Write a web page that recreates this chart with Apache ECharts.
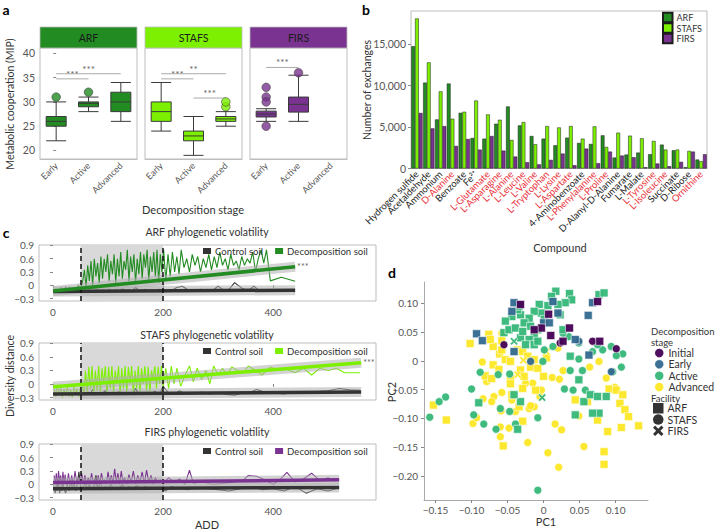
<!DOCTYPE html>
<html><head><meta charset="utf-8">
<script src="https://cdn.jsdelivr.net/npm/echarts@6/dist/echarts.min.js"></script>
<style>html,body{margin:0;padding:0;background:#fff}#c{width:717px;height:530px}</style>
</head><body><div id="c"></div>
<script>
// ---------- Panel a data ----------
const stages = ['Early', 'Active', 'Advanced'];
const arfBox = [[22, 25, 26, 27, 30], [28, 29, 29.7, 30, 31], [26, 28, 30, 32, 34]];
const stafsBox = [[24, 26, 28, 30, 34], [19, 22, 23, 24, 27], [25, 26, 26.5, 27, 28]];
const firsBox = [[26, 26.9, 27.5, 28.1, 28.6], [26, 27.9, 29.5, 31, 35.5]];
const arfOut = [['Early', 31], ['Active', 32]];
const stafsOut = [['Advanced', 29], ['Advanced', 30]];
const firsOut = [['Early', 33], ['Early', 31], ['Early', 30], ['Early', 25], ['Active', 36]];
// brackets: [fromIndex, toIndex, y, stars]
const arfSig = [[0, 1, 34.75, '***'], [0, 2, 35.8, '***']];
const stafsSig = [[0, 2, 35.8, '**'], [0, 1, 34.75, '***'], [1, 2, 30.8, '***']];
const firsSig = [[0, 1, 37.1, '***']];

// ---------- Panel b data ----------
const compounds = ['Hydrogen sulfide', 'Acetaldehyde', 'Ammonium', 'D-Alanine', 'Benzoate', 'Fe²⁺',
  'L-Glutamate', 'L-Asparagine', 'L-Alanine', 'L-Leucine', 'L-Valine', 'L-Tryptophan', 'L-Lysine',
  'L-Aspartate', '4-Aminobenzoate', 'L-Phenylalanine', 'L-Proline', 'D-Alanyl-D-Alanine', 'Fumarate',
  'L-Malate', 'L-Tyrosine', 'L-Isoleucine', 'Succinate', 'D-Ribose', 'Ornithine'];
const redCompounds = ['D-Alanine', 'L-Glutamate', 'L-Asparagine', 'L-Alanine', 'L-Leucine', 'L-Valine',
  'L-Tryptophan', 'L-Lysine', 'L-Aspartate', 'L-Phenylalanine', 'L-Proline', 'L-Tyrosine', 'L-Isoleucine', 'Ornithine'];
const arfEx = [14750, 10360, 5920, 10250, 6720, 3680, 3600, 5400, 7480, 5200, 3920, 3600, 2800,
  3720, 3080, 2960, 4000, 1320, 1680, 1920, 1720, 2880, 2200, 160, 1080];
const stafsEx = [18100, 12800, 9300, 6000, 6840, 8200, 6520, 5880, 3440, 5600, 2920, 5120, 4950,
  5120, 3600, 5080, 2600, 4320, 3960, 3640, 3320, 2280, 2280, 2120, 880];
const firsEx = [6700, 4840, 5120, 2720, 3560, 2280, 3920, 2160, 1440, 760, 500, 1040, 1800,
  400, 2400, 640, 2040, 1560, 1360, 160, 600, 280, 800, 2040, 1720];

// ---------- Panel c data ----------
const arfDecomp = [[2,-0.1],[6,-0.08],[10,-0.12],[14,-0.05],[18,-0.1],[22,-0.07],[26,-0.12],[30,-0.04],[34,-0.1],[38,-0.06],[42,-0.1],[46,0.0],[50,-0.08],
 [54,0.1],[57,0.35],[60,-0.05],[63,0.45],[66,0.1],[69,0.55],[72,0.0],[75,0.6],[78,0.2],[81,0.5],[84,0.05],[87,0.65],[90,0.15],[93,0.6],[96,0.3],[99,0.7],[102,0.1],[105,0.55],[108,0.25],[111,0.7],[114,0.05],[117,0.6],[120,0.2],[123,0.75],[126,0.15],[129,0.55],[132,0.35],[135,0.8],[138,0.1],[141,0.65],[144,0.3],[147,0.7],[150,0.05],[153,0.6],[156,0.25],[159,0.75],[162,0.15],[165,0.7],[168,0.4],[171,0.8],[174,0.1],[177,0.65],[180,0.3],[183,0.75],[186,0.2],[189,0.8],[192,0.05],[195,0.7],[198,0.3],[201,0.8],
 [205,0.1],[209,0.7],[213,0.2],[217,0.75],[221,0.3],[225,0.65],[229,0.25],[233,0.8],[238,0.4],[243,0.6],[248,0.3],[253,0.7],[258,0.45],[263,0.65],[268,0.3],[273,0.6],[278,0.4],[283,0.7],[288,0.35],[293,0.65],[298,0.4],[303,0.75],[308,0.45],[313,0.6],[318,0.35],[323,0.7],[328,0.45],[333,0.55],[338,0.35],[343,0.65],[348,0.45],[353,0.6],[358,0.5],[363,0.75],[368,0.3],[373,0.6],[378,0.8],[383,0.5],[388,0.8],[395,0.1],[415,0.18],[440,0.09]];
const arfControl = [[2,-0.13],[5,-0.1],[8,-0.14],[11,-0.11],[14,-0.12],[17,-0.09],[20,-0.13],[23,-0.03],[26,-0.12],[30,-0.1],[34,-0.13],[38,-0.08],[42,-0.12],[46,-0.1],[50,-0.13],[55,-0.09],[60,-0.12],[66,-0.1],[72,-0.13],[78,-0.08],[84,-0.12],[90,-0.1],[96,-0.13],[102,-0.09],[108,-0.12],[114,-0.1],[120,-0.12],[126,-0.08],[132,-0.12],[138,-0.1],[144,-0.13],[150,-0.05],[156,-0.11],[162,-0.12],[168,-0.09],[174,-0.12],[180,-0.1],[186,-0.13],[192,-0.09],[198,-0.12],[205,-0.1],[215,-0.12],[225,-0.05],[235,-0.02],[245,-0.1],[255,-0.12],[268,-0.09],[280,-0.12],[292,-0.1],[300,-0.02],[310,-0.11],[320,-0.09],[330,0.06],[345,-0.08],[355,-0.12],[365,-0.02],[375,-0.12],[390,-0.1],[410,-0.12],[425,-0.1],[440,-0.15]];
const arfDecompFit = [[0, -0.13], [440, 0.42]];
const arfControlFit = [[0, -0.14], [440, -0.11]];

const stafsDecomp = [[2,-0.1],[5,-0.28],[8,-0.05],[11,-0.25],[14,-0.08],[17,-0.3],[20,-0.1],[23,-0.25],[26,-0.05],[29,-0.28],[32,-0.12],[35,-0.3],[38,-0.05],[41,-0.22],[44,-0.1],[47,-0.28],[50,-0.05],
 [53,0.0],[56,-0.25],[59,0.3],[62,-0.2],[65,0.38],[68,-0.1],[71,0.4],[74,-0.25],[77,0.3],[80,-0.15],[83,0.4],[86,-0.2],[89,0.35],[92,0.0],[95,0.4],[98,-0.25],[101,0.38],[104,-0.1],[107,0.4],[110,-0.2],[113,0.3],[116,0.0],[119,0.4],[122,-0.25],[125,0.35],[128,-0.1],[131,0.4],[134,-0.2],[137,0.38],[140,0.0],[143,0.4],[146,-0.25],[149,0.3],[152,-0.1],[155,0.4],[158,-0.2],[161,0.35],[164,0.0],[167,0.4],[170,-0.15],[173,0.38],[176,-0.2],[179,0.3],[182,0.1],[185,0.4],[188,-0.1],[191,0.38],[194,0.0],[197,0.4],[200,-0.05],
 [205,0.35],[210,-0.1],[215,0.4],[220,0.0],[225,0.35],[232,-0.05],[240,0.2],[248,0.4],[255,0.05],[262,0.35],[270,0.1],[278,0.3],[285,0.0],[292,0.4],[300,0.2],[308,0.35],[316,0.2],[325,0.38],[335,0.3],[345,0.25],[355,0.4],[368,0.3],[380,0.2],[395,0.38],[410,0.3],[425,0.33],[440,0.25],[455,0.35],[470,0.2],[485,0.35],[500,0.3],[515,0.35],[530,0.25],[545,0.25],[558,0.25]];
const stafsControl = [[2,-0.22],[5,-0.2],[8,-0.24],[11,-0.2],[14,-0.23],[17,-0.19],[20,-0.22],[24,-0.2],[28,-0.24],[32,-0.21],[36,-0.23],[40,-0.19],[44,-0.22],[48,-0.2],[52,-0.23],[56,-0.2],[60,-0.22],[64,-0.18],[68,-0.21],[72,-0.12],[76,-0.22],[80,-0.19],[85,-0.23],[90,-0.2],[95,-0.15],[100,-0.22],[105,-0.19],[110,-0.23],[115,-0.2],[120,-0.17],[125,-0.22],[130,-0.2],[135,-0.23],[140,-0.19],[145,-0.22],[150,-0.1],[155,-0.21],[160,-0.2],[165,-0.23],[170,-0.18],[175,-0.22],[180,-0.2],[185,-0.16],[190,-0.22],[195,-0.2],[200,-0.05],[210,-0.2],[220,-0.22],[230,-0.15],[240,-0.21],[255,-0.22],[270,-0.18],[285,-0.22],[300,-0.2],[315,-0.23],[330,-0.25],[345,-0.2],[360,-0.18],[370,-0.12],[385,-0.18],[400,-0.2],[420,-0.22],[440,-0.18],[460,-0.2],[480,-0.17],[500,-0.15],[520,-0.1],[540,-0.13],[558,-0.14]];
const stafsDecompFit = [[0, -0.06], [560, 0.47]];
const stafsControlFit = [[0, -0.22], [560, -0.18]];

const firsDecomp = [[2,0.2],[4,0.0],[6,0.25],[8,-0.05],[10,0.3],[12,0.05],[14,0.2],[16,-0.08],[18,0.28],[20,0.02],[22,0.22],[25,-0.05],[28,0.25],[31,0.0],[34,0.2],[37,-0.02],[40,0.3],[43,0.05],[46,0.15],[49,0.0],[52,0.25],[55,0.02],[58,0.2],[61,-0.02],[64,0.15],[67,0.0],[70,0.25],[73,0.05],[76,0.12],[79,-0.05],[82,0.2],[85,0.02],[88,0.25],[91,0.05],[94,0.1],[97,0.0],[100,0.28],[103,0.05],[106,0.2],[109,0.02],[112,0.35],[115,0.05],[118,0.25],[121,0.0],[124,0.3],[127,0.05],[130,0.15],[134,0.0],[138,0.22],[142,0.05],[146,0.3],[150,0.0],[154,0.2],[158,0.05],[162,0.28],[166,0.02],[170,0.32],[174,0.05],[178,0.2],[182,0.0],[186,0.15],[190,0.05],[195,0.1],[200,0.0],[210,0.15],[220,0.05],[230,0.12],[240,0.0],[248,0.32],[255,0.02],[270,0.05],[290,0.0],[310,0.02],[330,0.05],[345,0.08],[355,0.2],[370,0.18],[385,0.1],[400,0.0],[412,0.1],[425,0.27],[440,0.05],[455,0.12],[470,0.25],[485,0.08],[500,0.15],[510,0.08],[520,0.1]];
const firsControl = [[2,-0.05],[4,-0.2],[6,0.0],[8,-0.15],[10,0.1],[12,-0.2],[14,-0.05],[16,-0.15],[18,0.05],[20,-0.12],[23,-0.2],[26,0.0],[29,-0.15],[32,0.1],[35,-0.1],[38,0.05],[41,-0.15],[44,0.0],[47,0.28],[50,-0.05],[54,-0.12],[58,0.05],[62,-0.1],[66,0.0],[70,-0.12],[74,-0.05],[78,0.2],[82,-0.1],[86,0.05],[90,-0.12],[95,-0.05],[100,-0.1],[105,0.0],[110,-0.12],[115,-0.08],[120,-0.1],[126,0.0],[132,-0.12],[138,-0.05],[145,-0.1],[152,-0.03],[160,-0.1],[168,-0.05],[176,-0.12],[185,-0.08],[195,-0.1],[205,-0.15],[215,-0.05],[230,-0.1],[245,-0.12],[260,-0.08],[280,-0.1],[300,-0.12],[320,-0.15],[340,-0.1],[360,-0.05],[380,-0.12],[400,-0.1],[420,-0.15],[440,-0.05],[460,-0.2],[480,-0.1],[500,-0.15],[520,-0.08]];
const firsDecompFit = [[0, 0.04], [520, 0.1]];
const firsControlFit = [[0, -0.1], [520, -0.07]];
const cTicksX = [0, 200, 400];
const cTicksY = [-0.3, 0, 0.3, 0.6, 0.9];

// ---------- Panel d data (PC1, PC2) ----------
const dInitialARF = [[-0.032,0.098],[0.007,0.081],[0.010,0.044],[0.027,0.034],[0.036,0.057],[0.078,0.034],[0.075,0.103],[-0.003,0.057],[-0.013,0.054]];
const dInitialSTAFS = [[0.101,0.021],[-0.055,0.028],[0.023,0.031],[0.068,0.034]];
const dEarlyARF = [[-0.041,0.101],[-0.044,0.086],[-0.093,0.047],[-0.085,0.035],[0.013,0.103],[0.068,0.101],[0.062,0.079],[0.000,0.066],[0.008,0.066],[0.020,0.083],[0.044,0.037],[0.063,0.010],[-0.041,0.016]];
const dEarlySTAFS = [[0.094,-0.019],[0.049,0.034],[-0.018,-0.001]];
const dActiveARF = [[0.017,0.121],[0.036,0.117],[0.077,0.115],[0.084,0.118],[0.011,0.112],[0.039,0.106],[0.030,0.101],[0.020,0.098],[0.006,0.096],[-0.006,0.098],[-0.003,0.083],[-0.013,0.086],[-0.020,0.074],[-0.032,0.080],[-0.044,0.077],[-0.053,0.069],[-0.036,0.089],[-0.034,0.095],[-0.027,0.066],[-0.018,0.060],[-0.008,0.054],[-0.013,0.042],[-0.020,0.037],[-0.032,0.040],[-0.055,0.049],[-0.048,0.054],[-0.039,0.057],[-0.029,0.051],[-0.025,0.028],[-0.013,0.028],[-0.008,0.034],[0.001,0.072],[0.023,0.080],[0.027,0.054],[0.037,0.008],[0.049,-0.033],[0.056,-0.071],[0.065,-0.059],[0.075,-0.062],[0.087,-0.062],[0.077,-0.091],[0.068,-0.091],[0.044,-0.094],[-0.032,-0.071],[-0.041,-0.059],[-0.090,-0.073],[-0.036,-0.119]];
const dActiveSTAFS = [[-0.100,-0.049],[-0.158,-0.098],[-0.145,-0.071],[-0.136,-0.063],[-0.097,-0.094],[-0.083,-0.110],[-0.066,-0.119],[-0.060,-0.083],[-0.047,-0.088],[-0.039,-0.110],[-0.008,-0.099],[-0.008,-0.225],[0.029,-0.049],[0.041,-0.051],[0.054,-0.017],[0.058,-0.051],[0.096,-0.019],[0.108,-0.011],[0.110,0.012],[0.101,0.009],[0.094,0.025],[0.049,0.003],[0.037,-0.017],[-0.001,-0.001],[0.001,0.019],[0.013,0.025],[0.035,0.042],[-0.063,-0.024],[-0.047,-0.023],[-0.088,-0.020],[0.068,0.016],[0.082,0.019],[0.075,0.028],[0.049,0.031],[0.027,0.048]];
const dAdvancedARF = [[-0.102,0.030],[-0.076,0.046],[-0.058,0.035],[-0.061,0.012],[-0.053,0.002],[-0.046,-0.001],[-0.036,0.019],[-0.029,0.016],[-0.022,0.008],[-0.013,0.002],[-0.070,-0.007],[-0.062,-0.015],[-0.081,-0.026],[-0.072,-0.031],[-0.046,-0.030],[-0.046,-0.040],[-0.032,-0.016],[-0.027,-0.027],[-0.018,-0.011],[-0.008,-0.013],[0.004,0.005],[-0.011,-0.051],[-0.029,-0.048],[-0.044,-0.059],[-0.034,-0.080],[-0.029,-0.105],[-0.056,-0.148],[0.000,-0.027],[0.091,-0.049],[0.101,-0.051],[0.110,-0.059],[0.106,-0.074],[0.113,-0.085],[0.118,-0.097],[0.132,-0.113],[0.108,-0.116],[0.089,-0.123],[0.084,-0.158],[0.084,-0.180],[0.075,-0.103],[0.061,-0.071],[0.044,-0.068],[-0.153,-0.077],[-0.135,-0.103],[-0.070,0.025],[-0.074,0.037],[-0.058,0.019]];
const dAdvancedSTAFS = [[-0.085,-0.002],[-0.079,-0.036],[-0.069,-0.062],[-0.058,-0.055],[-0.072,-0.071],[-0.059,-0.087],[-0.044,-0.068],[-0.039,-0.088],[-0.020,-0.083],[-0.013,-0.080],[-0.005,-0.062],[-0.003,-0.051],[-0.015,-0.039],[-0.025,-0.039],[0.012,-0.029],[0.022,-0.032],[0.027,-0.017],[0.064,-0.011],[0.077,-0.001],[0.087,-0.030],[0.099,-0.046],[0.049,-0.096],[0.016,-0.110],[0.025,-0.120],[0.006,-0.160],[0.021,-0.185],[0.056,-0.149],[-0.022,-0.142],[-0.060,-0.132],[-0.060,-0.115],[-0.048,-0.117],[-0.098,-0.109],[-0.093,-0.099],[-0.018,-0.078],[-0.084,-0.066],[-0.058,0.048],[-0.010,0.051],[0.020,0.022]];
const dActiveFIRS = [[-0.041,0.034],[-0.002,-0.064]];
const dAdvancedFIRS = [[-0.028,0.001],[-0.036,-0.024],[0.004,0.016]];
const dTicksX = [-0.15, -0.10, -0.05, 0, 0.05, 0.10];
const dTicksY = [-0.20, -0.15, -0.10, -0.05, 0, 0.05, 0.10];

// ---------- styling ----------
const F = 'Lato, "Noto Sans", sans-serif';
const LAB = '#555';
const BORDER = '#bdbdbd';
const C = { ARF: '#228B22', STAFS: '#7CF000', FIRS: '#7A3390', ctrl: '#333333' };
const V = { Initial: '#440154', Early: '#31688E', Active: '#35B779', Advanced: '#FDE725' };
const XPATH = 'path://M0,2 L2,0 L5,3 L8,0 L10,2 L7,5 L10,8 L8,10 L5,7 L2,10 L0,8 L3,5 Z';
const fmtMinus = (v, d) => v === 0 ? '0' : (v < 0 ? '\u2212' : '') + Math.abs(v).toFixed(d);

const chart = echarts.init(document.getElementById('c'), null, { renderer: 'svg' });

const grid = [
  { left: 40, top: 48, width: 97, height: 111, show: true, borderColor: BORDER },
  { left: 145, top: 48, width: 97, height: 111, show: true, borderColor: BORDER },
  { left: 250, top: 48, width: 97, height: 111, show: true, borderColor: BORDER },
  { left: 411, top: 11, width: 296, height: 157.5, show: true, borderColor: BORDER },
  { left: 39, top: 245, width: 337, height: 56, show: true, borderColor: BORDER },
  { left: 39, top: 343, width: 337, height: 57, show: true, borderColor: BORDER },
  { left: 39, top: 444, width: 337, height: 56, show: true, borderColor: BORDER },
  { left: 424, top: 282, width: 224, height: 218, show: false }
];

const xAxis = [], yAxis = [], series = [];
// panel a axes
for (let i = 0; i < 3; i++) {
  xAxis.push({ type: 'category', gridIndex: i, data: stages,
    axisLine: { lineStyle: { color: BORDER } },
    axisTick: { alignWithLabel: true, length: 3, lineStyle: { color: '#888' } },
    axisLabel: { rotate: 45, fontSize: 9, color: LAB, fontFamily: F, margin: 5, interval: 0 } });
  yAxis.push({ type: 'value', gridIndex: i, min: 18.25, max: 41.1, splitLine: { show: false },
    axisLine: { show: false },
    axisTick: { show: i === 0, length: 3, customValues: [20, 25, 30, 35, 40], lineStyle: { color: '#888' } },
    axisLabel: { show: i === 0, customValues: [20, 25, 30, 35, 40], fontSize: 10.5, color: LAB, fontFamily: F, margin: 5 } });
}
for (let i = 0; i < 3; i++) xAxis.push({ type: 'value', gridIndex: i, min: -0.5, max: 2.5, show: false });
// panel b axes
xAxis.push({ type: 'category', gridIndex: 3, data: compounds,
  axisLine: { lineStyle: { color: BORDER } },
  axisTick: { alignWithLabel: true, length: 3, lineStyle: { color: '#888' } },
  axisLabel: { interval: 0, rotate: 45, fontSize: 9.5, margin: 4, fontFamily: F,
    color: (v) => redCompounds.indexOf(v) >= 0 ? '#E8303A' : '#222' } });
yAxis.push({ type: 'value', gridIndex: 3, min: 0, max: 19000, splitLine: { show: false }, axisLine: { show: false },
  axisTick: { show: true, length: 3, customValues: [0, 5000, 10000, 15000], lineStyle: { color: '#888' } },
  axisLabel: { customValues: [0, 5000, 10000, 15000], fontSize: 10.5, color: LAB, fontFamily: F, margin: 5,
    formatter: v => v === 0 ? '0' : (v / 1000) + ',000' } });
// panel c axes
for (let i = 0; i < 3; i++) {
  xAxis.push({ type: 'value', gridIndex: 4 + i, min: -25.5, max: 587, splitLine: { show: false },
    axisLine: { show: false },
    axisTick: { show: true, length: 3, customValues: cTicksX, lineStyle: { color: '#888' } },
    axisLabel: { customValues: cTicksX, fontSize: 10, color: LAB, fontFamily: F, margin: 6 } });
  yAxis.push({ type: 'value', gridIndex: 4 + i, min: -0.355, max: 0.91, splitLine: { show: false },
    axisLine: { show: false },
    axisTick: { show: true, length: 3, customValues: cTicksY, lineStyle: { color: '#888' } },
    axisLabel: { customValues: cTicksY, fontSize: 10, color: LAB, fontFamily: F, margin: 5,
      formatter: v => fmtMinus(v, 1) } });
}
// panel d axes
xAxis.push({ type: 'value', gridIndex: 7, min: -0.166, max: 0.145, splitLine: { show: false },
  axisLine: { show: true, onZero: false, lineStyle: { color: '#aaa' } },
  axisTick: { show: true, length: 3, customValues: dTicksX, lineStyle: { color: '#888' } },
  axisLabel: { customValues: dTicksX, fontSize: 10, color: LAB, fontFamily: F, margin: 5, formatter: v => fmtMinus(v, 2) } });
yAxis.push({ type: 'value', gridIndex: 7, min: -0.242, max: 0.137, splitLine: { show: false },
  axisLine: { show: true, onZero: false, lineStyle: { color: '#aaa' } },
  axisTick: { show: true, length: 3, customValues: dTicksY, lineStyle: { color: '#888' } },
  axisLabel: { customValues: dTicksY, fontSize: 10, color: LAB, fontFamily: F, margin: 6, formatter: v => fmtMinus(v, 2) } });

// ---------- panel a series ----------
const aSets = [['ARF', arfBox, arfOut, arfSig], ['STAFS', stafsBox, stafsOut, stafsSig], ['FIRS', firsBox, firsOut, firsSig]];
aSets.forEach(([key, box, out, sig], i) => {
  series.push({ type: 'boxplot', xAxisIndex: i, yAxisIndex: i, data: box, boxWidth: [20, 20], silent: true,
    itemStyle: { color: C[key], borderColor: '#3a3a3a', borderWidth: 1 } });
  series.push({ type: 'scatter', xAxisIndex: i, yAxisIndex: i, data: out, symbolSize: 8.5, silent: true,
    itemStyle: { color: C[key], borderColor: '#333', borderWidth: 0.7 }, z: 3 });
  sig.forEach(s => {
    series.push({ type: 'line', xAxisIndex: 3 + i, yAxisIndex: i, data: [[s[0], s[2]], [s[1], s[2]]],
      showSymbol: false, symbol: 'none', silent: true, lineStyle: { color: '#aaa', width: 1 } });
    series.push({ type: 'scatter', xAxisIndex: 3 + i, yAxisIndex: i, data: [[(s[0] + s[1]) / 2, s[2], s[3]]],
      symbolSize: 0, silent: true,
      label: { show: true, position: 'top', distance: 0, formatter: p => p.data[2], fontSize: 10, color: '#333', fontFamily: F } });
  });
});

// ---------- panel b series ----------
[['ARF', arfEx], ['STAFS', stafsEx], ['FIRS', firsEx]].forEach(([key, vals]) => {
  series.push({ type: 'bar', name: key, xAxisIndex: 6, yAxisIndex: 3, data: vals, barGap: '0%', barCategoryGap: '5%',
    silent: true, itemStyle: { color: C[key], borderColor: '#1c1c1c', borderWidth: 0.5 } });
});

// ---------- panel c series ----------
const cSets = [
  ['ARF', arfDecomp, arfControl, arfDecompFit, arfControlFit, true],
  ['STAFS', stafsDecomp, stafsControl, stafsDecompFit, stafsControlFit, true],
  ['FIRS', firsDecomp, firsControl, firsDecompFit, firsControlFit, false]
];
cSets.forEach(([key, dec, ctl, decFit, ctlFit, sig], i) => {
  const xi = 7 + i, yi = 4 + i;
  series.push({ type: 'line', name: 'Control soil', xAxisIndex: xi, yAxisIndex: yi, data: ctl, showSymbol: false, symbol: 'none',
    silent: true, z: 1, lineStyle: { color: C.ctrl, width: 1.1 }, itemStyle: { color: C.ctrl },
    markArea: { silent: true, itemStyle: { color: '#d9d9d9' }, data: [[{ xAxis: 50 }, { xAxis: 200 }]] } });
  series.push({ type: 'line', name: 'Decomposition soil', xAxisIndex: xi, yAxisIndex: yi, data: dec, showSymbol: false, symbol: 'none',
    silent: true, z: 2, lineStyle: { color: C[key], width: 1.1 }, itemStyle: { color: C[key] } });
  [ctlFit, decFit].forEach(fit => {
    series.push({ type: 'line', xAxisIndex: xi, yAxisIndex: yi, data: fit, showSymbol: false, symbol: 'none', silent: true, z: 3,
      lineStyle: { color: 'rgba(175,175,175,0.55)', width: 10 } });
  });
  series.push({ type: 'line', xAxisIndex: xi, yAxisIndex: yi, data: ctlFit, showSymbol: false, symbol: 'none', silent: true, z: 4,
    lineStyle: { color: C.ctrl, width: 3.5 } });
  series.push({ type: 'line', xAxisIndex: xi, yAxisIndex: yi, data: decFit, showSymbol: false, symbol: 'none', silent: true, z: 5,
    lineStyle: { color: C[key], width: 3.5 },
    markLine: { silent: true, symbol: 'none', label: { show: false }, lineStyle: { color: '#111', type: [5, 3], width: 1.5 },
      data: [{ xAxis: 50 }, { xAxis: 200 }] } });
  if (sig) {
    const end = decFit[decFit.length - 1];
    series.push({ type: 'scatter', xAxisIndex: xi, yAxisIndex: yi, data: [[end[0], end[1], '***']], symbolSize: 0, silent: true, z: 6,
      label: { show: true, position: 'right', distance: 2, formatter: p => p.data[2], fontSize: 9, color: '#333', fontFamily: F } });
  }
});

// ---------- panel d series ----------
const dSets = [
  ['Advanced', dAdvancedSTAFS, 'circle'], ['Advanced', dAdvancedARF, 'rect'], ['Advanced', dAdvancedFIRS, XPATH],
  ['Active', dActiveSTAFS, 'circle'], ['Active', dActiveARF, 'rect'], ['Active', dActiveFIRS, XPATH],
  ['Early', dEarlySTAFS, 'circle'], ['Early', dEarlyARF, 'rect'],
  ['Initial', dInitialSTAFS, 'circle'], ['Initial', dInitialARF, 'rect']
];
dSets.forEach(([stage, pts, sym]) => {
  series.push({ type: 'scatter', name: stage, xAxisIndex: 10, yAxisIndex: 7, data: pts, symbol: sym,
    symbolSize: 8, silent: true,
    itemStyle: { color: V[stage], borderColor: '#fff', borderWidth: 0.6, opacity: 0.95 } });
});

// ---------- legends (one legend per row for exact placement) ----------
function oneLegend(item, left, cy, size, fontSize) {
  return { data: [item], left: left, top: cy - size / 2 - 1, padding: 0, itemWidth: size, itemHeight: size,
    selectedMode: false, textStyle: { fontSize: fontSize, color: '#333', fontFamily: F, padding: [0, 0, 0, -1] } };
}
const legend = [];
[['ARF', 17.5], ['STAFS', 28], ['FIRS', 38.5]].forEach(([n, cy]) =>
  legend.push(oneLegend({ name: n, icon: 'rect' }, 662, cy, 9.5, 9)));
[['Initial', 353], ['Early', 364.3], ['Active', 375.7], ['Advanced', 387]].forEach(([n, cy]) =>
  legend.push(oneLegend({ name: n, icon: 'circle' }, 653, cy, 10.5, 10.5)));
[['ARF', 'rect', 409], ['STAFS', 'circle', 420.3], ['FIRS', XPATH, 431.6]].forEach(([n, ic, cy]) =>
  legend.push(oneLegend({ name: n, icon: ic, itemStyle: { color: '#333', borderWidth: 0 } }, 653, cy, 10.5, 10.5)));
[[246, C.ARF], [346, C.STAFS], [446, C.FIRS]].forEach(([top, col]) => {
  legend.push({ data: [{ name: 'Control soil', icon: 'rect', itemStyle: { color: C.ctrl } },
    { name: 'Decomposition soil', icon: 'rect', itemStyle: { color: col } }],
    left: 203, top: top, padding: 0, itemWidth: 8, itemHeight: 6, itemGap: 12, selectedMode: false,
    textStyle: { fontSize: 9.6, color: '#333', fontFamily: F, padding: [0, 0, 0, -1] } });
});

// ---------- texts ----------
function T(x, y, text, o) {
  o = o || {};
  return { type: 'text', x: x, y: y, rotation: o.rot || 0, silent: true, z: 100,
    style: { text: text, fill: o.fill || '#333', fontSize: o.size || 11, fontFamily: F, fontWeight: o.weight || 'normal',
      textAlign: o.align || 'center', textVerticalAlign: 'middle' } };
}
const graphic = [
  T(6, 9, 'a', { size: 14, weight: 'bold', fill: '#000' }),
  T(366, 9, 'b', { size: 14, weight: 'bold', fill: '#000' }),
  T(6, 232, 'c', { size: 14, weight: 'bold', fill: '#000' }),
  T(392, 272, 'd', { size: 14, weight: 'bold', fill: '#000' }),
  T(10, 104, 'Metabolic cooperation (MIP)', { rot: Math.PI / 2, size: 10.5 }),
  T(193, 209, 'Decomposition stage', { size: 11 }),
  T(367, 90, 'Number of exchanges', { rot: Math.PI / 2, size: 10.5 }),
  T(560, 247, 'Compound', { size: 11 }),
  T(207, 232, 'ARF phylogenetic volatility', { size: 10.5 }),
  T(207, 335, 'STAFS phylogenetic volatility', { size: 10.5 }),
  T(207, 432, 'FIRS phylogenetic volatility', { size: 10.5 }),
  T(10, 376, 'Diversity distance', { rot: Math.PI / 2, size: 10.5 }),
  T(207, 524, 'ADD', { size: 11 }),
  T(391, 392, 'PC2', { rot: Math.PI / 2, size: 11 }),
  T(546, 521, 'PC1', { size: 11 }),
  T(651, 331, 'Decomposition', { align: 'left', size: 9.5 }),
  T(651, 342, 'stage', { align: 'left', size: 9.5 }),
  T(651, 398, 'Facility', { align: 'left', size: 9.5 })
];
[[40, 'ARF'], [145, 'STAFS'], [250, 'FIRS']].forEach(([x, k]) => {
  graphic.push({ type: 'rect', x: x, y: 27, shape: { width: 97, height: 21 }, silent: true, z: 50,
    style: { fill: C[k], stroke: BORDER, lineWidth: 0.8 } });
  graphic.push(T(x + 48.5, 37.5, k, { size: 10.5, fill: '#1a1a1a' }));
});

chart.setOption({ animation: false, backgroundColor: '#fff', textStyle: { fontFamily: F },
  grid, xAxis, yAxis, series, legend, graphic });
</script></body></html>
